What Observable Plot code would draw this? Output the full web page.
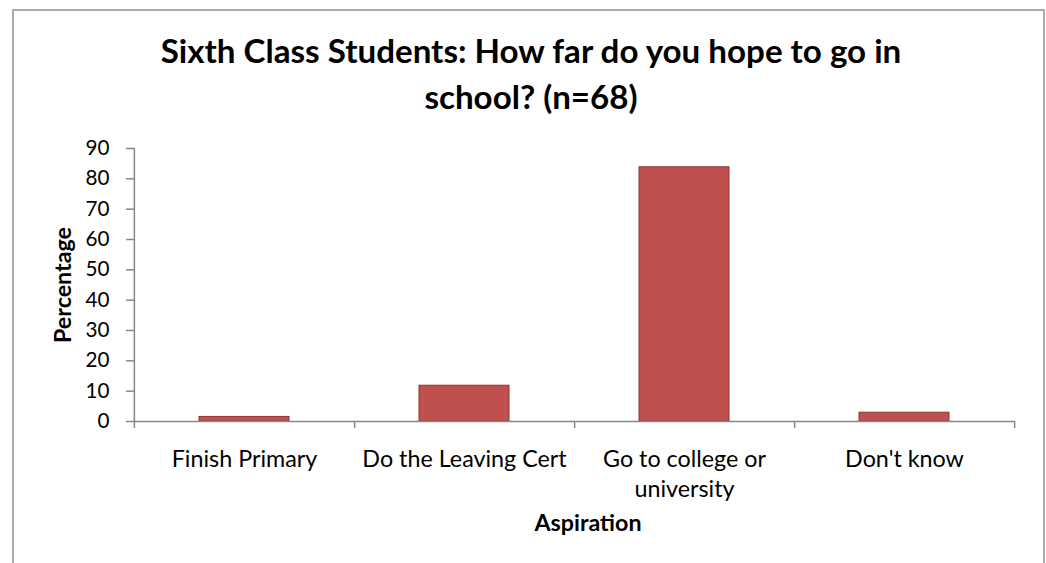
<!DOCTYPE html>
<html><head><meta charset="utf-8">
<script src="https://cdn.jsdelivr.net/npm/d3@7"></script>
<script src="https://cdn.jsdelivr.net/npm/@observablehq/plot@0.6"></script>
<style>
html,body{margin:0;padding:0;background:#fff;}
body{width:1046px;height:563px;overflow:hidden;position:relative;}
#frame{position:absolute;left:12px;top:9px;width:1033px;height:700px;border:2px solid #ababab;box-sizing:border-box;}
#title{position:absolute;left:0;width:1062px;text-align:center;font-weight:bold;white-space:pre-line;color:#000;}
#chart{position:absolute;left:0;top:130px;}
</style></head><body>
<div id="frame"></div>
<div id="title"></div>
<div id="chart"></div>
<script>
// ---- data ----
const titleText = "Sixth Class Students: How far do you hope to go in\nschool? (n=68)";
const categories = ["Finish Primary", "Do the Leaving Cert", "Go to college or university", "Don't know"];
const categoryLabels = ["Finish Primary", "Do the Leaving Cert", "Go to college or\nuniversity", "Don't know"];
const percentages = [1.5, 11.8, 83.8, 2.9];
const yTicks = [0, 10, 20, 30, 40, 50, 60, 70, 80, 90];
const yLabel = "Percentage";
const xLabel = "Aspiration";

// ---- fonts ----
const FONT = "Lato, 'Open Sans', sans-serif";
const ctx = document.createElement("canvas").getContext("2d");
function fit(text, weight, target) {
  ctx.font = `${weight} 100px ${FONT}`;
  return 100 * target / ctx.measureText(text).width;
}
const titleSize = fit("Sixth Class Students: How far do you hope to go in", "bold", 743);
const xTickSize = fit("Go to college or", "normal", 163);
const yTickSize = fit("90", "normal", 24);
const axisTitleSize = fit("Percentage", "bold", 116);

// ---- title ----
const titleEl = document.getElementById("title");
titleEl.textContent = titleText;
titleEl.style.fontFamily = FONT;
titleEl.style.fontSize = titleSize + "px";
const LH = 46;
titleEl.style.lineHeight = LH + "px";
ctx.font = `bold ${titleSize}px ${FONT}`;
const m = ctx.measureText("Sixth");
const asc = m.fontBoundingBoxAscent, desc = m.fontBoundingBoxDescent;
const baseOff = (LH - (asc + desc)) / 2 + asc;
titleEl.style.top = (63 - baseOff) + "px";

// ---- chart ----
const W = 1046, H = 433, mT = 18, mB = 142, mL = 134, mR = 31;
const step = (W - mL - mR) / categories.length;
const pxPerUnit = (H - mT - mB) / 90;
const tickLen = 7 / pxPerUnit;
const gray = "#888888";
const data = categories.map((c, i) => ({category: c, value: percentages[i]}));

const plot = Plot.plot({
  width: W, height: H,
  marginTop: mT, marginBottom: mB, marginLeft: mL, marginRight: mR,
  style: {fontFamily: FONT, color: "#000", background: "transparent", overflow: "visible"},
  x: {type: "band", domain: categories, paddingInner: 0.59, paddingOuter: 0.295, label: null},
  y: {domain: [0, 90], label: null},
  marks: [
    Plot.barY(data, {x: "category", y: "value", fill: "#C0504D", stroke: "#8f3432", strokeWidth: 1}),
    Plot.ruleY([0], {stroke: gray, strokeWidth: 1.5}),
    Plot.ruleX([categories[0]], {x: d => d, dx: -step / 2, y1: -tickLen, y2: 90, stroke: gray, strokeWidth: 1.5}),
    Plot.ruleX(categories, {x: d => d, dx: step / 2, y1: -tickLen, y2: 0, stroke: gray, strokeWidth: 1.5}),
    Plot.axisY({ticks: yTicks, tickSize: 8, tickPadding: 17, stroke: gray, strokeWidth: 1.5, fill: "#000",
      fontSize: yTickSize, label: null}),
    Plot.axisX({tickSize: 0, tickPadding: 41 - 0.71 * xTickSize,
      tickFormat: c => categoryLabels[categories.indexOf(c)],
      fontSize: xTickSize, lineHeight: 30 / xTickSize, fill: "#000", label: null}),
    Plot.text([yLabel], {text: d => d, frameAnchor: "left", dx: -71, rotate: -90,
      textAnchor: "middle", lineAnchor: "middle",
      fontWeight: "bold", fontSize: axisTitleSize, fill: "#000"}),
    Plot.text([xLabel], {text: d => d, frameAnchor: "bottom", dx: 13, dy: 102,
      textAnchor: "middle", lineAnchor: "middle",
      fontWeight: "bold", fontSize: axisTitleSize, fill: "#000"})
  ]
});
document.getElementById("chart").appendChild(plot);
</script>
</body></html>
